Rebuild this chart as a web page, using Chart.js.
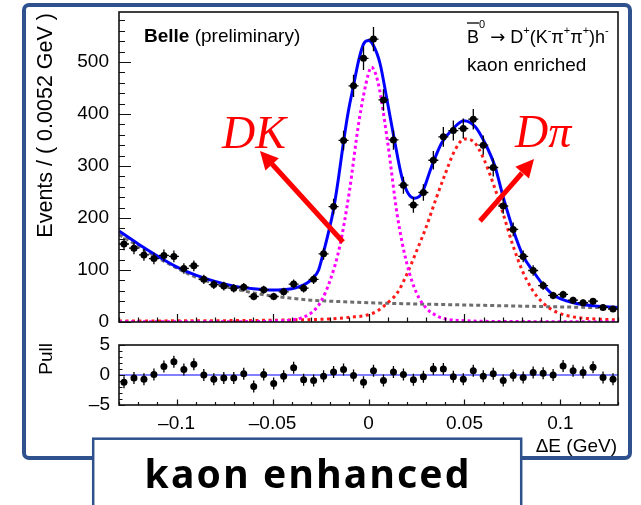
<!DOCTYPE html>
<html>
<head>
<meta charset="utf-8">
<script src="https://cdn.jsdelivr.net/npm/chart.js@4"></script>
<style>
  html, body { margin: 0; padding: 0; background: #fff; }
  #page { position: relative; width: 641px; height: 505px; overflow: hidden; background: #fff; }
  #page canvas { position: absolute; left: 0; }
  #mainCanvas { top: 0; }
  #pullCanvas { top: 330px; }
  #overlay { position: absolute; left: 0; top: 0; pointer-events: none; }
  .sans { font-family: "Liberation Sans", Arial, Helvetica, sans-serif; }
</style>
</head>
<body>
<div id="page">
  <canvas id="mainCanvas" width="641" height="330"></canvas>
  <canvas id="pullCanvas" width="641" height="175"></canvas>
  <svg id="overlay" width="641" height="505" xmlns="http://www.w3.org/2000/svg">
    <!-- slide frame -->
    <rect x="24" y="5" width="606" height="453" rx="5" ry="5" fill="none" stroke="#2f528f" stroke-width="4"/>

    <!-- axis titles -->
    <text class="sans" transform="translate(52,13) rotate(-90)" text-anchor="end" font-size="21.5" fill="#000">Events / ( 0.0052 GeV )</text>
    <text class="sans" transform="translate(52,343) rotate(-90)" text-anchor="end" font-size="19" fill="#000">Pull</text>
    <text class="sans" x="617" y="452" text-anchor="end" font-size="19" fill="#000">ΔE (GeV)</text>

    <!-- plot labels -->
    <text class="sans" x="144" y="42" font-size="19" fill="#000"><tspan font-weight="bold">Belle</tspan> (preliminary)</text>
    <line x1="467" y1="23" x2="479" y2="23" stroke="#000" stroke-width="1.3"/>
    <text class="sans" x="467" y="43" font-size="18" fill="#000">B<tspan dy="-15" font-size="11">0</tspan><tspan dy="15"> </tspan><tspan font-family="'DejaVu Sans', sans-serif" font-size="18">→</tspan><tspan> D</tspan><tspan dy="-9" font-size="11">+</tspan><tspan dy="9">(K</tspan><tspan dy="-9" font-size="11">-</tspan><tspan dy="9">π</tspan><tspan dy="-9" font-size="11">+</tspan><tspan dy="9">π</tspan><tspan dy="-9" font-size="11">+</tspan><tspan dy="9">)h</tspan><tspan dy="-9" font-size="11">-</tspan></text>
    <text class="sans" x="467" y="71" font-size="19" fill="#000">kaon enriched</text>

    <!-- component annotations -->
    <line x1="343" y1="242" x2="272" y2="164" stroke="#ff0000" stroke-width="5"/>
    <polygon points="260,151 278.8,158.2 265.4,170.4" fill="#ff0000"/>
    <line x1="480" y1="221" x2="522" y2="173" stroke="#ff0000" stroke-width="5"/>
    <polygon points="534,159 529,178.5 515.4,166.7" fill="#ff0000"/>
    <text x="222" y="148" font-family="'Liberation Serif', 'DejaVu Serif', serif" font-style="italic" font-size="46" fill="#ff0000">DK</text>
    <text x="515" y="147" font-family="'Liberation Serif', 'DejaVu Serif', serif" font-style="italic" font-size="46" fill="#ff0000">Dπ</text>

    <!-- caption box -->
    <rect x="93.2" y="438.7" width="428" height="80" fill="#fff" stroke="#2f528f" stroke-width="2.5"/>
    <text x="307" y="488" text-anchor="middle" font-family="'Noto Sans', 'DejaVu Sans', sans-serif" font-weight="bold" font-size="39" textLength="325" lengthAdjust="spacing" fill="#000">kaon enhanced</text>
  </svg>
</div>
<script>
// Binning of the ΔE histogram
const binLow = -0.13;
const binHigh = 0.13;
const binWidth = 0.0052;

// Events per bin
const counts = [150, 142, 129, 122, 128, 126, 103, 108, 82, 72,
                69, 65, 67, 49, 62, 49, 58, 73, 65, 82,
                131, 222, 349, 454, 507, 544, 427, 350, 263, 225,
                249, 311, 356, 368, 372, 390, 340, 297, 223, 178,
                126, 99, 70, 51, 53, 42, 37, 40, 28, 25];

// Pull of each bin with respect to the fit
const pulls = [-1.2, -0.5, -0.7, 0.1, 1.4, 2.2, 0.9, 1.8, 0, -0.7,
               -0.5, -0.5, 0.2, -1.9, 0.1, -1.4, -0.2, 1.2, -0.8, -0.9,
               -0.2, 0.5, 0.9, -0.1, -1.2, 0.7, -0.9, 0.5, 0.1, -0.8,
               -0.3, 1.0, 1.0, -0.3, -0.7, 0.7, -0.2, 0.2, -0.9, -0.1,
               -0.4, 0.4, 0.3, 0, 1.5, 0.7, 0.4, 1.3, -0.4, -0.7];
const pullError = 1;

// Total fit curve
const totalX = [-0.13, -0.12, -0.11, -0.10, -0.09, -0.08, -0.07, -0.06, -0.05, -0.045,
                -0.04, -0.036, -0.032, -0.029, -0.026, -0.0236, -0.021, -0.0183, -0.0157, -0.0131,
                -0.0105, -0.0079, -0.005, -0.0025, 0, 0.0025, 0.006, 0.0095, 0.0135, 0.0173,
                0.0207, 0.024, 0.0277, 0.0329, 0.0381, 0.0434, 0.0496, 0.0555, 0.0607, 0.0659,
                0.0702, 0.0754, 0.0807, 0.0859, 0.0911, 0.0963, 0.1067, 0.118, 0.13];
const totalY = [175, 150, 127, 106, 90, 78, 69, 64, 61.5, 62,
                64, 68, 75, 84, 100, 132, 170, 215, 275, 344,
                405, 453, 505, 535, 541, 532, 497, 430, 350, 280,
                247, 238, 247, 299, 344, 369, 387, 376, 344, 299,
                240, 177, 126, 97, 71, 52, 37, 31, 28];

// B -> D K component
const dkX = [-0.13, -0.06, -0.05, -0.04, -0.035, -0.03, -0.025, -0.02, -0.015, -0.01,
             -0.005, 0, 0.0015, 0.005, 0.01, 0.015, 0.02, 0.025, 0.03, 0.035,
             0.04, 0.05, 0.07, 0.13];
const dkY = [0.3, 0.8, 1.5, 4, 8, 17, 38, 80, 145, 250,
             385, 478, 490, 460, 345, 205, 112, 56, 27, 13,
             6, 2.5, 1, 0.5];

// B -> D pi component
const dpiX = [-0.13, -0.08, -0.04, -0.02, -0.01, 0, 0.005, 0.01, 0.015, 0.02,
              0.025, 0.03, 0.035, 0.04, 0.045, 0.05, 0.055, 0.06, 0.065, 0.07,
              0.075, 0.08, 0.085, 0.09, 0.095, 0.10, 0.105, 0.11, 0.12, 0.13];
const dpiY = [2, 2.5, 4, 6, 9, 14, 22, 37, 56, 92,
              136, 182, 235, 285, 330, 352, 346, 314, 266, 210,
              150, 100, 64, 40, 25, 16, 11, 8, 5.5, 4];

// Combinatorial background
const bkgX = [-0.13, -0.12, -0.11, -0.10, -0.09, -0.08, -0.07, -0.06, -0.05, -0.04,
              -0.03, -0.02, -0.01, 0, 0.02, 0.04, 0.06, 0.08, 0.10, 0.13];
const bkgY = [168, 146, 124, 104, 86, 74, 64, 56, 50, 45.5,
              42, 40, 38.5, 37, 35, 33.5, 32, 30.5, 29, 27];

// Axis ticks
const eventTicks = [0, 100, 200, 300, 400, 500];
const deltaETicks = [-0.1, -0.05, 0, 0.05, 0.1];
const pullTicks = [-5, 0, 5];

const binCenters = counts.map((_, i) => +(binLow + binWidth * (i + 0.5)).toFixed(4));
const pairs = (xs, ys) => xs.map((x, i) => ({ x: x, y: ys[i] }));
const fmtTick = v => v < 0 ? '\u2013' + String(Math.abs(v)) : String(v);

Chart.defaults.font.family = '"Liberation Sans", Arial, Helvetica, sans-serif';
Chart.defaults.font.size = 19;
Chart.defaults.color = '#000';

// Fixed axis boxes, so the plot frames sit at known places
const fixWidth = w => s => { s.width = w; s.paddingTop = 0; s.paddingBottom = 0; };
const fixHeight = h => s => { s.height = h; s.paddingLeft = 0; s.paddingRight = 0; };

// ROOT-style frame with inward major and minor tick marks
const rootAxes = {
  id: 'rootAxes',
  afterDraw(chart, args, o) {
    const { ctx, chartArea: a, scales: { x, y } } = chart;
    ctx.save();
    ctx.strokeStyle = '#111';
    ctx.lineWidth = 1.2;
    ctx.beginPath();
    const minors = (scale, step) => {
      const out = [];
      for (let k = Math.ceil(scale.min / step - 1e-6); k <= Math.floor(scale.max / step + 1e-6); k++) out.push(k * step);
      return out;
    };
    const isMajor = (v, majors) => majors.some(m => Math.abs(m - v) < 1e-9);
    minors(x, o.xMinor).forEach(v => {
      const px = Math.round(x.getPixelForValue(v)) + 0.5;
      const len = isMajor(v, o.xMajors) ? o.xMajorLen : o.xMinorLen;
      ctx.moveTo(px, a.bottom); ctx.lineTo(px, a.bottom - len);
    });
    minors(y, o.yMinor).forEach(v => {
      const py = Math.round(y.getPixelForValue(v)) + 0.5;
      const len = isMajor(v, o.yMajors) ? o.yMajorLen : o.yMinorLen;
      ctx.moveTo(a.left, py); ctx.lineTo(a.left + len, py);
    });
    ctx.stroke();
    ctx.lineWidth = 1.6;
    ctx.strokeRect(a.left, a.top, a.right - a.left, a.bottom - a.top);
    ctx.restore();
  }
};

// Error bars for histogram points
const errorBars = {
  id: 'errorBars',
  afterDatasetsDraw(chart) {
    const { ctx, scales: { x, y } } = chart;
    chart.data.datasets.forEach(ds => {
      if (!ds.yErrors) return;
      ctx.save();
      ctx.strokeStyle = '#000';
      ctx.lineWidth = 1.3;
      ctx.beginPath();
      ds.data.forEach((p, j) => {
        const px = x.getPixelForValue(p.x);
        const py = y.getPixelForValue(p.y);
        const e = ds.yErrors[j];
        ctx.moveTo(px, y.getPixelForValue(p.y - e));
        ctx.lineTo(px, y.getPixelForValue(p.y + e));
        if (ds.xHalfWidth) {
          ctx.moveTo(x.getPixelForValue(p.x - ds.xHalfWidth), py);
          ctx.lineTo(x.getPixelForValue(p.x + ds.xHalfWidth), py);
        }
      });
      ctx.stroke();
      ctx.restore();
    });
  }
};

const curve = (data, color, width, dash) => ({
  data: data, borderColor: color, borderWidth: width, borderDash: dash || [],
  pointRadius: 0, cubicInterpolationMode: 'monotone', fill: false
});

new Chart(document.getElementById('mainCanvas'), {
  type: 'line',
  data: {
    datasets: [
      {
        data: pairs(binCenters, counts), showLine: false,
        pointRadius: 3.5, pointBackgroundColor: '#000', pointBorderWidth: 0,
        yErrors: counts.map(Math.sqrt), xHalfWidth: binWidth / 2
      },
      curve(pairs(totalX, totalY), '#0000ff', 3),
      curve(pairs(dkX, dkY), '#ff00ff', 3, [3, 3]),
      curve(pairs(dpiX, dpiY), '#ff1a1a', 3, [3, 3.5]),
      curve(pairs(bkgX, bkgY), '#6e6e6e', 3, [4, 3])
    ]
  },
  options: {
    responsive: false, animation: false, events: [],
    layout: { autoPadding: false, padding: { left: 0, top: 12, right: 23, bottom: 0 } },
    plugins: {
      legend: { display: false }, tooltip: { enabled: false },
      rootAxes: { xMinor: 0.01, yMinor: 20, xMajors: deltaETicks, yMajors: eventTicks,
                  xMajorLen: 8, xMinorLen: 4.5, yMajorLen: 12, yMinorLen: 6 }
    },
    scales: {
      x: {
        type: 'linear', min: binLow, max: binHigh,
        grid: { display: false, drawTicks: false }, border: { display: false },
        ticks: { display: false },
        afterFit: fixHeight(8)
      },
      y: {
        min: 0, max: 596,
        grid: { display: false, drawTicks: false }, border: { display: false },
        ticks: { padding: 10, callback: fmtTick },
        afterBuildTicks: s => { s.ticks = eventTicks.map(v => ({ value: v })); },
        afterFit: fixWidth(119)
      }
    }
  },
  plugins: [rootAxes, errorBars]
});

new Chart(document.getElementById('pullCanvas'), {
  type: 'line',
  data: {
    datasets: [
      {
        data: pairs(binCenters, pulls), showLine: false,
        pointRadius: 3.5, pointBackgroundColor: '#000', pointBorderWidth: 0,
        yErrors: pulls.map(() => pullError)
      },
      curve([{ x: binLow, y: 0 }, { x: binHigh, y: 0 }], '#7f7fff', 2)
    ]
  },
  options: {
    responsive: false, animation: false, events: [],
    layout: { autoPadding: false, padding: { left: 0, top: 15, right: 23, bottom: 0 } },
    plugins: {
      legend: { display: false }, tooltip: { enabled: false },
      rootAxes: { xMinor: 0.01, yMinor: 1, xMajors: deltaETicks, yMajors: pullTicks,
                  xMajorLen: 5.5, xMinorLen: 3, yMajorLen: 6, yMinorLen: 3.5 }
    },
    scales: {
      x: {
        type: 'linear', min: binLow, max: binHigh,
        grid: { display: false, drawTicks: false }, border: { display: false },
        ticks: { padding: 7, callback: fmtTick, maxRotation: 0 },
        afterBuildTicks: s => { s.ticks = deltaETicks.map(v => ({ value: v })); },
        afterFit: fixHeight(100)
      },
      y: {
        min: -5, max: 5,
        grid: { display: false, drawTicks: false }, border: { display: false },
        ticks: { padding: 9, callback: fmtTick },
        afterBuildTicks: s => { s.ticks = pullTicks.map(v => ({ value: v })); },
        afterFit: fixWidth(119)
      }
    }
  },
  plugins: [rootAxes, errorBars]
});
</script>
</body>
</html>
